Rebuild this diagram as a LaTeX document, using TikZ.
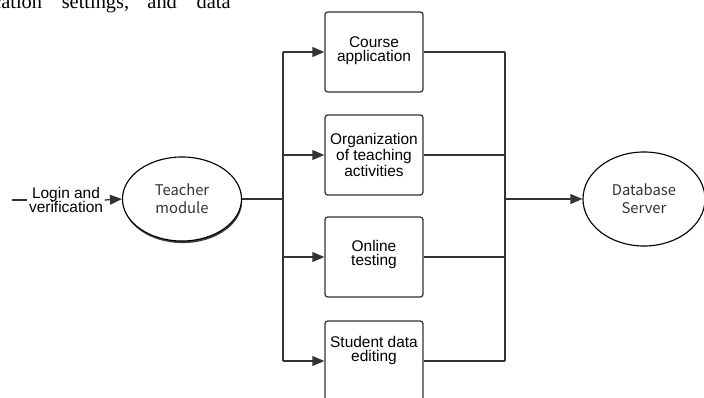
\documentclass[tikz,border=0pt]{standalone}
\usepackage{fontspec}
\setmainfont{Liberation Serif}
\setsansfont{Liberation Sans}
\newfontfamily\cjk{Noto Sans CJK SC}
\usetikzlibrary{arrows.meta,shapes.geometric,shadows}
\tikzset{
  modbox/.style={draw=black!80, line width=0.9pt, rounded corners=2pt, minimum width=2.45cm, minimum height=2cm, inner sep=1pt, align=center, font=\sffamily\fontsize{11}{10}\selectfont},
  endnode/.style={draw=black, line width=0.8pt, ellipse, inner sep=0pt, align=center, fill=white, font=\cjk\fontsize{10.5}{13}\selectfont, text=black!80},
  link/.style={draw=black!80, line width=0.9pt},
  arr/.style={link, -{Triangle[length=8.5pt,width=7pt]}}
}
\begin{document}
\begin{tikzpicture}[x=0.025cm, y=-0.025cm]
	\useasboundingbox (0,0) rectangle (704,398);
	\clip (0,0) rectangle (704,398);
	% cut-off line of the page text above the figure
	\node[anchor=base west, inner sep=0pt, font=\fontsize{14.5}{14.5}\selectfont] (pagetext) at (-8,9) {cation\hspace*{14pt}settings,\hspace*{13pt}and\hspace*{14pt}data};
	% modules
	\node[endnode, minimum width=2.975cm, minimum height=2.1cm, drop shadow={shadow xshift=0.5pt, shadow yshift=-1.5pt, fill=black, opacity=0.75}] (teacher) at (182,199) {Teacher\\module};
	\node[endnode, minimum width=3.05cm, minimum height=2.35cm] (db) at (644,199) {Database\\Server};
	\node[modbox] (b1) at (374,52) {Course\\application\\[-0.5em]};
	\node[modbox] (b2) at (374,155) {Organization\\of teaching\\activities};
	\node[modbox] (b3) at (374,257) {Online\\testing\\[-0.4em]};
	\node[modbox] (b4) at (374,361) {Student data\\editing\\[7pt]};
	\node[inner sep=1pt, align=center, font=\sffamily\fontsize{11}{10.5}\selectfont] (login) at (66,200) {Login and\\verification};
	\coordinate (start) at (12,200);
	\coordinate (lbus) at (283,199);
	\coordinate (rbus) at (505,199);
	% connectors
	\draw[link] (start) -- (login.west);
	\draw[arr] (login.east) -- (teacher.west);
	\draw[link] (teacher.east) -- (lbus);
	\draw[link] (b1.west -| lbus) -- (b4.west -| lbus);
	\foreach \b in {b1,b2,b3,b4}
		\draw[arr] (\b.west -| lbus) -- (\b.west);
	\foreach \b in {b1,b2,b3,b4}
		\draw[link] (\b.east) -- (\b.east -| rbus);
	\draw[link] (b1.east -| rbus) -- (b4.east -| rbus);
	\draw[arr] (rbus) -- (db.west);
\end{tikzpicture}
\end{document}
